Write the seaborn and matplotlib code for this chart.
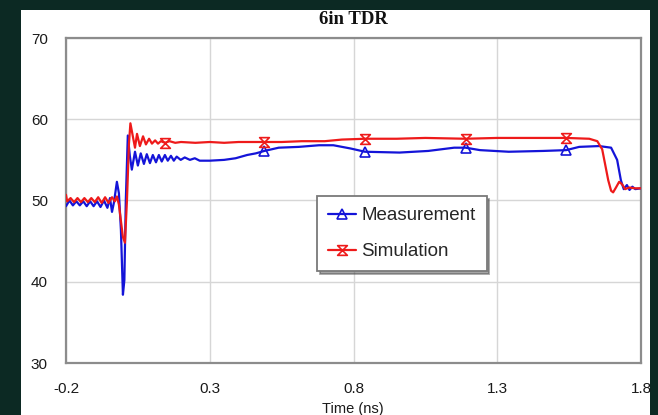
import matplotlib
matplotlib.use("Agg")
import matplotlib.pyplot as plt
import numpy as np
import seaborn as sns
from matplotlib.patches import Rectangle
from matplotlib.path import Path

# values
meas_t = [-0.200, -0.188, -0.176, -0.164, -0.152, -0.140, -0.128, -0.116, -0.104, -0.092,
          -0.080, -0.068, -0.056, -0.047, -0.040, -0.033, -0.023, -0.016, -0.009, -0.002,
          0.003, 0.008, 0.015, 0.022, 0.029, 0.040, 0.050, 0.060, 0.071, 0.081,
          0.092, 0.102, 0.113, 0.123, 0.133, 0.144, 0.154, 0.165, 0.175, 0.185,
          0.199, 0.213, 0.231, 0.248, 0.265, 0.30, 0.35, 0.39, 0.43, 0.46,
          0.49, 0.54, 0.61, 0.68, 0.73, 0.79, 0.84, 0.96, 1.06, 1.15,
          1.19, 1.24, 1.34, 1.46, 1.54, 1.585, 1.654, 1.696, 1.717, 1.73,
          1.74, 1.751, 1.76, 1.77, 1.78, 1.80]
meas_v = [49.3, 50.0, 49.4, 49.9, 49.4, 49.9, 49.3, 49.9, 49.3, 49.9,
          49.2, 50.0, 49.1, 50.3, 48.6, 49.8, 52.3, 50.9, 46.4, 38.4,
          40.2, 50.0, 58.0, 55.5, 53.8, 56.0, 54.3, 55.8, 54.5, 55.7,
          54.6, 55.6, 54.7, 55.6, 54.8, 55.6, 54.9, 55.5, 54.9, 55.4,
          55.0, 55.3, 55.0, 55.2, 54.9, 54.9, 55.0, 55.2, 55.6, 55.8,
          56.1, 56.5, 56.6, 56.8, 56.8, 56.4, 56.0, 55.9, 56.1, 56.5,
          56.5, 56.2, 56.0, 56.1, 56.2, 56.6, 56.7, 56.5, 55.0, 52.5,
          51.4, 51.9, 51.3, 51.7, 51.4, 51.5]
meas_marks = [0.49, 0.84, 1.19, 1.54]

sim_t = [-0.200, -0.196, -0.184, -0.172, -0.160, -0.148, -0.136, -0.124, -0.112, -0.100,
         -0.088, -0.076, -0.064, -0.052, -0.040, -0.030, -0.023, -0.016, -0.009, -0.002,
         0.005, 0.012, 0.019, 0.024, 0.033, 0.040, 0.047, 0.057, 0.068, 0.078,
         0.089, 0.099, 0.110, 0.120, 0.130, 0.144, 0.16, 0.18, 0.20, 0.25,
         0.30, 0.35, 0.40, 0.49, 0.55, 0.62, 0.70, 0.76, 0.84, 0.95,
         1.05, 1.19, 1.30, 1.42, 1.54, 1.62, 1.648, 1.665, 1.675, 1.686,
         1.696, 1.703, 1.713, 1.724, 1.734, 1.745, 1.759, 1.78, 1.80]
sim_v = [50.7, 49.9, 50.3, 49.8, 50.3, 49.8, 50.3, 49.8, 50.3, 49.8,
         50.4, 49.7, 50.4, 49.7, 50.4, 49.9, 50.5, 49.5, 47.5, 45.5,
         44.8, 50.0, 57.0, 59.5, 57.8, 56.5, 58.2, 56.7, 57.9, 56.9,
         57.6, 57.0, 57.4, 57.0, 57.3, 57.1, 57.3, 57.1, 57.2, 57.1,
         57.2, 57.1, 57.2, 57.2, 57.2, 57.3, 57.3, 57.5, 57.6, 57.6,
         57.7, 57.6, 57.7, 57.7, 57.7, 57.6, 57.3, 56.3, 54.5, 52.5,
         51.2, 51.0, 51.6, 52.3, 52.0, 51.4, 51.6, 51.5, 51.5]
sim_marks = [0.144, 0.49, 0.84, 1.19, 1.54]

x_ticks = [-0.2, 0.3, 0.8, 1.3, 1.8]
y_ticks = [30, 40, 50, 60, 70]

sns.set_style("white")
plt.rcParams['font.family'] = ['Liberation Sans', 'DejaVu Sans']

fig = plt.figure(figsize=(6.58, 4.15), dpi=100, facecolor='#0c2923')
fig.patches.append(Rectangle((21 / 658, 0), 629 / 658, 405 / 415, transform=fig.transFigure,
                             facecolor='white', edgecolor='none', zorder=-10))
ax = fig.add_axes([66 / 658, 52 / 415, 575 / 658, 325 / 415])
ax.set_facecolor('white')

# hourglass marker for the simulation curve
hourglass = Path([(-1, 1), (1, 1), (-1, -1), (1, -1), (-1, 1)],
                 [Path.MOVETO, Path.LINETO, Path.LINETO, Path.LINETO, Path.CLOSEPOLY])

meas_idx = [int(np.argmin(np.abs(np.array(meas_t) - m))) for m in meas_marks]
sim_idx = [int(np.argmin(np.abs(np.array(sim_t) - m))) for m in sim_marks]

sns.lineplot(x=meas_t, y=meas_v, ax=ax, estimator=None, sort=False, color='#1414d8',
             linewidth=1.6, marker='^', markevery=meas_idx, markersize=7,
             markerfacecolor='none', markeredgecolor='#1414d8', markeredgewidth=1.2,
             label='Measurement', zorder=3)
sns.lineplot(x=sim_t, y=sim_v, ax=ax, estimator=None, sort=False, color='#ee1a1a',
             linewidth=1.6, marker=hourglass, markevery=sim_idx, markersize=7,
             markerfacecolor='none', markeredgecolor='#ee1a1a', markeredgewidth=1.2,
             label='Simulation', zorder=4)

ax.set_xlim(-0.2, 1.8)
ax.set_ylim(30, 70)
ax.set_xticks(x_ticks)
ax.set_xticklabels([str(v) for v in x_ticks])
ax.set_yticks(y_ticks)
ax.tick_params(axis='both', length=0, labelsize=11, colors='#1a1a1a')
ax.tick_params(axis='x', pad=14)
ax.tick_params(axis='y', pad=13)
ax.grid(True, color='#d6d6d6', linewidth=1.0)
ax.set_axisbelow(True)
for sp in ax.spines.values():
    sp.set_color('#8c8c8c')
    sp.set_linewidth(1.6)
ax.set_xlabel('')
ax.set_ylabel('')

leg = ax.legend(loc='upper left', bbox_to_anchor=(0.4365, 0.514), borderaxespad=0,
                fontsize=13.5, frameon=True, fancybox=False, shadow=True,
                edgecolor='#7a7a7a', handlelength=1.5, handletextpad=0.25,
                borderpad=0.6, labelspacing=1.0)
leg.get_frame().set_linewidth(1.3)

fig.text(353 / 658, 1 - 20 / 415, '6in TDR', ha='center', va='center', fontsize=13.5,
         fontweight='bold', family=['Liberation Serif', 'DejaVu Serif'], color='#111111')
fig.text(353 / 658, 1 - 409 / 415, 'Time (ns)', ha='center', va='center', fontsize=10.5,
         color='#1a1a1a')

fig.savefig('out.png', dpi=100, facecolor=fig.get_facecolor())
